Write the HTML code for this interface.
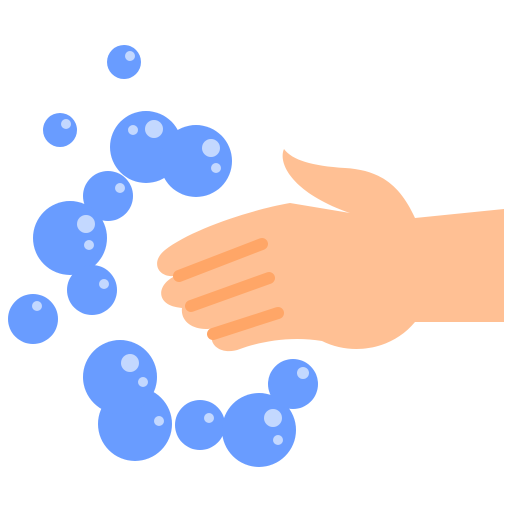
<!DOCTYPE html>
<html><head><meta charset="utf-8"><style>html,body{margin:0;padding:0;background:#fff}svg{display:block}</style></head>
<body>
<svg width="512" height="512" viewBox="0 0 512 512">
<g fill="#699cff">
<circle cx="124" cy="62" r="17"/>
<circle cx="60" cy="130" r="17"/>
<circle cx="146" cy="147" r="36"/>
<circle cx="196" cy="161" r="36"/>
<circle cx="108" cy="196" r="25"/>
<circle cx="70" cy="238" r="37"/>
<circle cx="92" cy="290" r="25"/>
<circle cx="33" cy="319" r="25"/>
<circle cx="135" cy="424" r="37"/>
<circle cx="120" cy="377" r="37"/>
<circle cx="200" cy="425" r="25"/>
<circle cx="259" cy="430" r="37"/>
<circle cx="293" cy="384" r="25"/>
</g>
<g fill="#c3d8ff">
<circle cx="130" cy="56" r="5"/><circle cx="66" cy="124" r="5"/>
<circle cx="154" cy="129" r="9"/><circle cx="133" cy="130" r="5"/>
<circle cx="211" cy="148" r="9"/><circle cx="216" cy="168" r="5"/>
<circle cx="120" cy="188" r="5"/><circle cx="86" cy="224" r="9"/><circle cx="89" cy="245" r="5"/>
<circle cx="104" cy="284" r="5"/><circle cx="37" cy="306" r="5"/>
<circle cx="130" cy="363" r="9"/><circle cx="143" cy="382" r="5"/><circle cx="159" cy="421" r="5"/>
<circle cx="209" cy="418" r="5"/><circle cx="273" cy="418" r="9"/><circle cx="278" cy="440" r="5"/>
<circle cx="303" cy="373" r="6"/>
</g>
<path fill="#ffc094" d="M504 209 L415 218 C400 185 380 170 345 168 C312 166 292 160 284 149 C278 162 290 192 350 213 L290 203 C250 210 190 230 165 250 C150 262 158 278 175 276 C156 285 155 306 182 308 C180 324 198 332 214 328 C205 345 222 356 240 349 C262 341 292 336 322 341 C352 356 392 350 415 322 L504 322 Z"/>
<g stroke="#ffa667" stroke-width="12" stroke-linecap="round">
<line x1="179" y1="276" x2="262" y2="244"/>
<line x1="191" y1="306" x2="269" y2="278"/>
<line x1="213" y1="334" x2="278" y2="313"/>
</g>
</svg>
</body></html>
